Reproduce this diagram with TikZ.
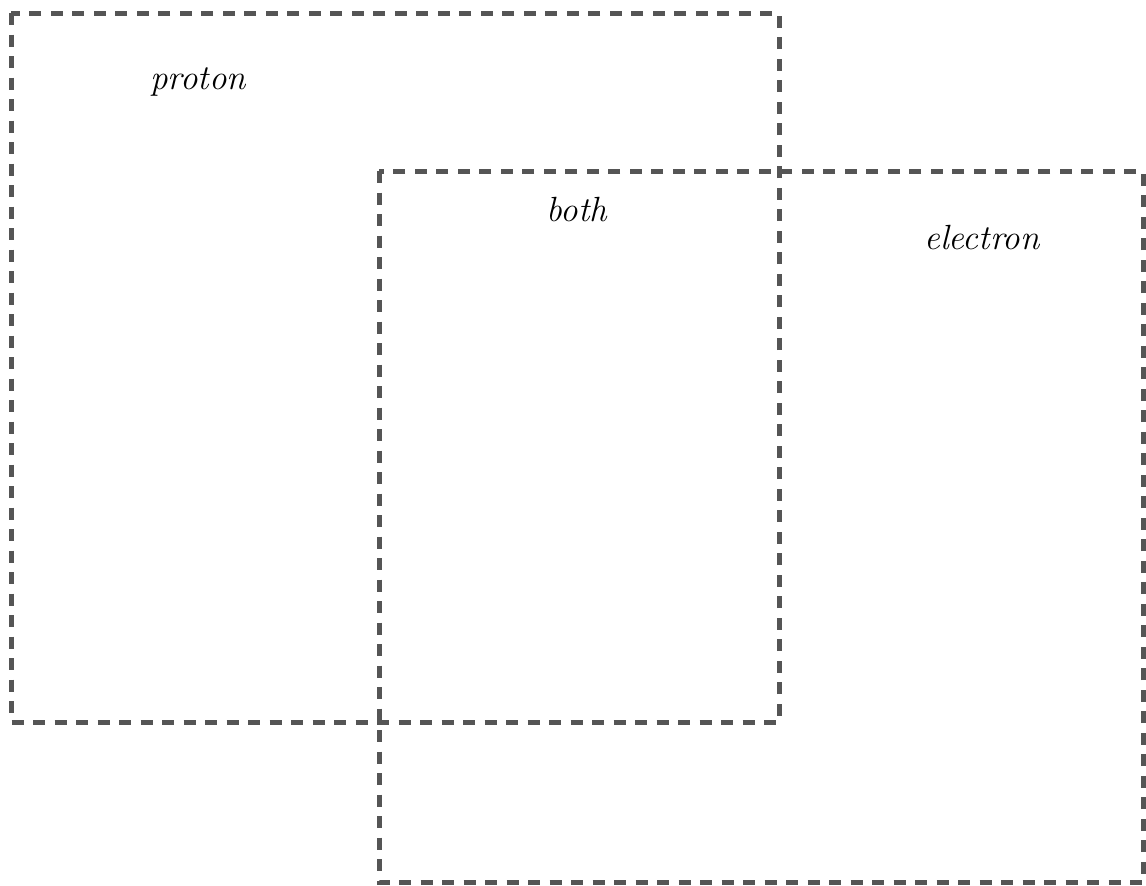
\documentclass[tikz,border=0pt]{standalone}
\usepackage{fontspec}
\usepackage{tikz}
\usepackage{xcolor}
\definecolor{boxgray}{HTML}{555555}

\begin{document}
\begin{tikzpicture}[x=1pt,y=-1pt,%
    setbox/.style={draw=boxgray,line width=5pt,dash pattern=on 12pt off 9.5pt},%
    setlabel/.style={font=\fontsize{35}{40}\selectfont\itshape}]%
          \useasboundingbox (0,0) rectangle (1146,886);%
          \draw [setbox] (11,13) rectangle (779,722);%
          \draw [setbox] (379,171) rectangle (1143,882);%
          \node [setlabel] (P) at (198,82) {proton};%
          \node [setlabel] (B) at (577,210) {both};%
          \node [setlabel] (E) at (982,238) {electron};%
        \end{tikzpicture}
\end{document}
